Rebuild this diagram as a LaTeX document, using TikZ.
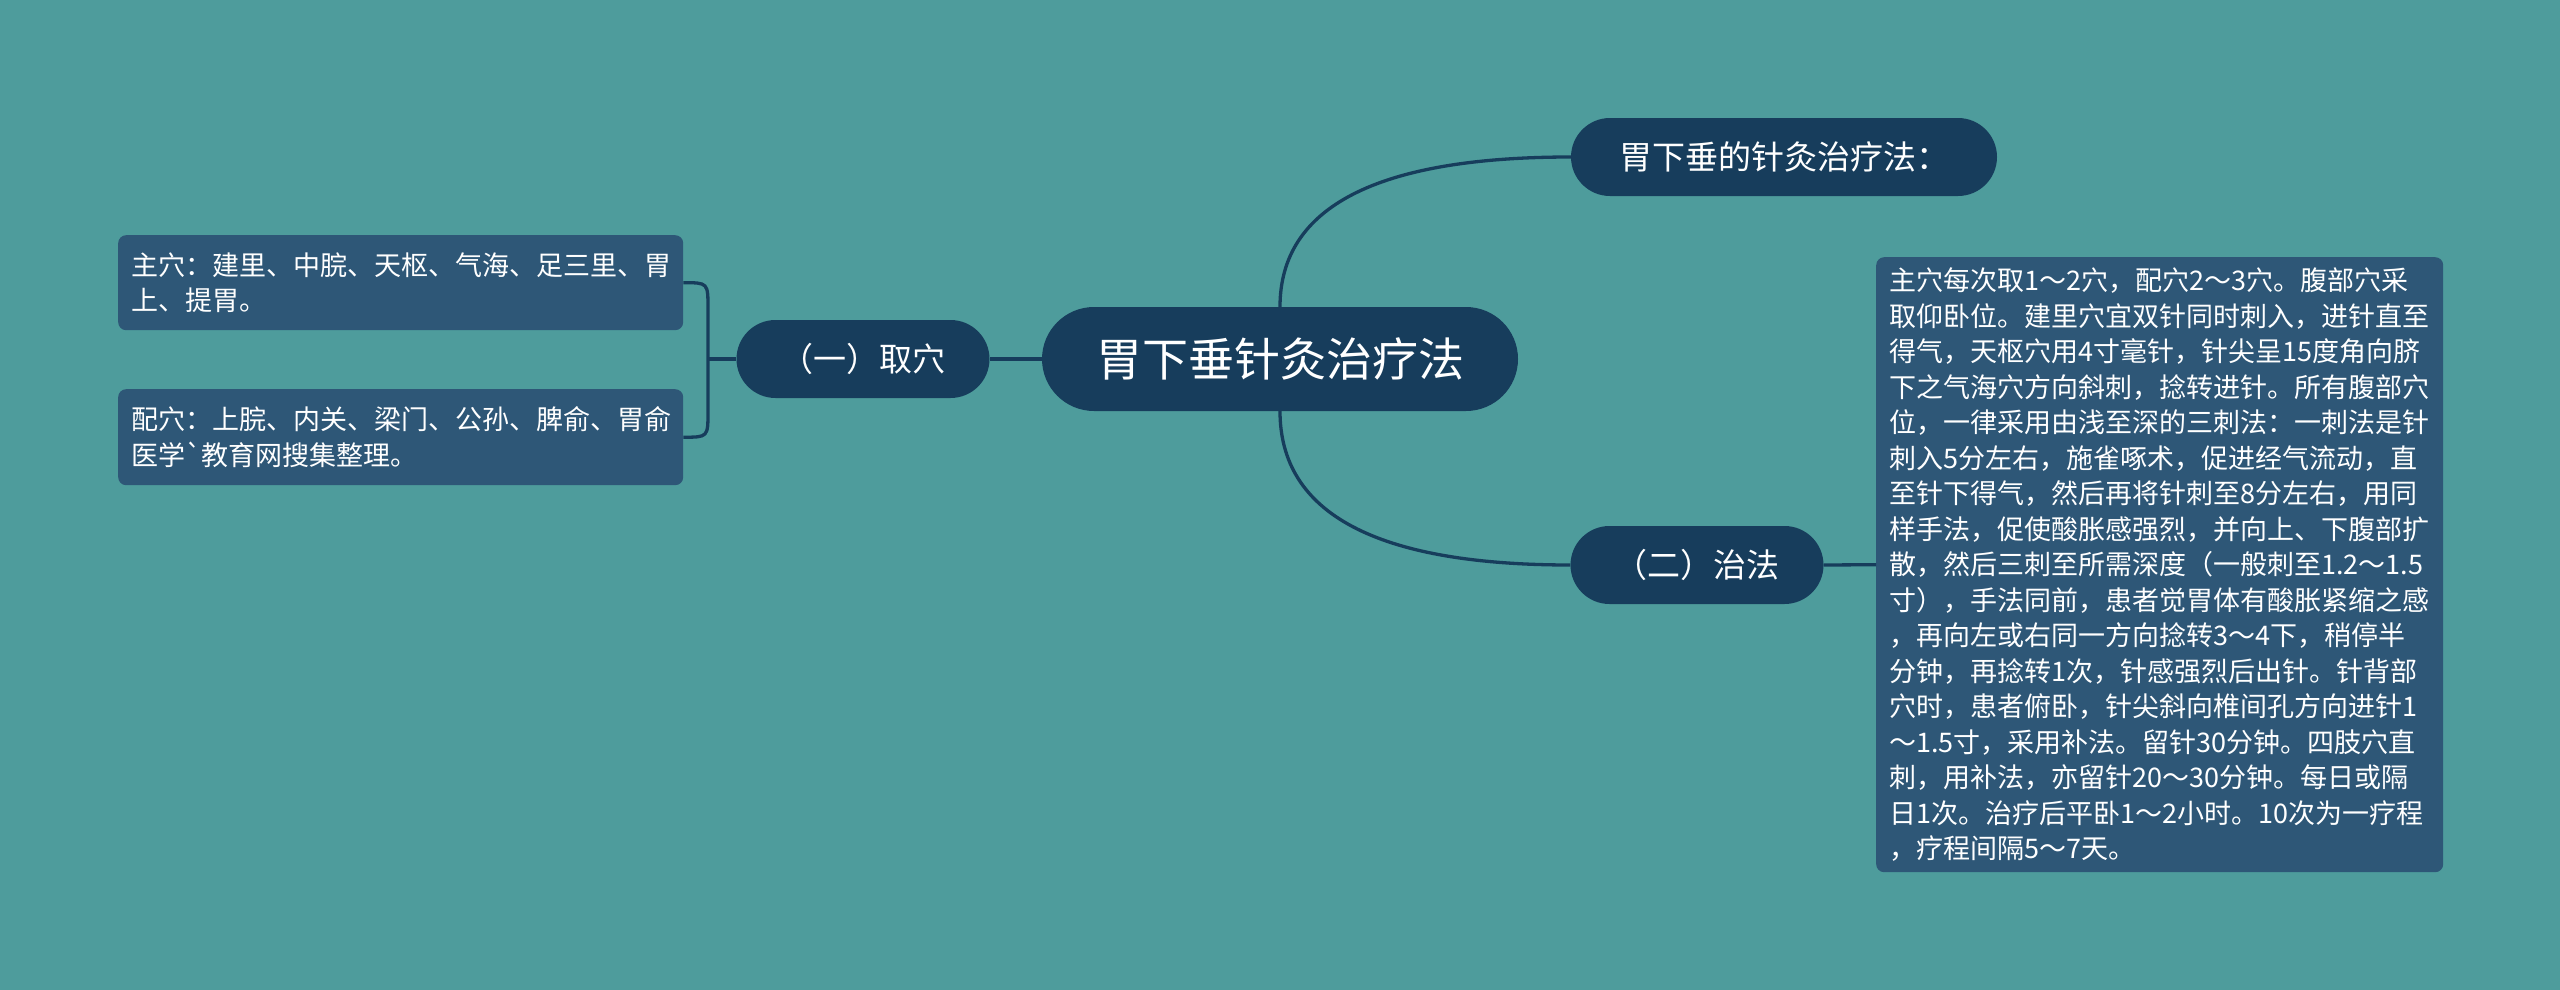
\documentclass[tikz,border=0pt]{standalone}
\usepackage{fontspec}
\newfontfamily\cjk{Noto Sans CJK SC}
\usetikzlibrary{calc}
\definecolor{bgc}{RGB}{78,156,156}
\definecolor{nodec}{RGB}{23,61,92}
\definecolor{boxc}{RGB}{46,87,119}
\begin{document}
\begin{tikzpicture}[x=1pt,y=-1pt,
  pill/.style={fill=nodec, text=white, inner sep=0pt, font=\cjk\fontsize{33}{40}\selectfont},
  textbox/.style={fill=boxc, text=white, rounded corners=8pt, anchor=north west, inner xsep=13pt, inner ysep=0pt, align=left, font=\cjk\fontsize{27}{35.5}\selectfont},
  conn/.style={draw=nodec, line width=3.3pt}]
\fill[bgc] (0,0) rectangle (2560,990);
\useasboundingbox (0,0) rectangle (2560,990);
% main nodes
\node[pill, minimum width=476pt, minimum height=104pt, rounded corners=52pt, font=\cjk\fontsize{46}{54}\selectfont] (central) at (1280,359) {胃下垂针灸治疗法};
\node[pill, minimum width=426pt, minimum height=78pt, rounded corners=39pt] (top) at (1784,157) {胃下垂的针灸治疗法：};
\node[pill, minimum width=253pt, minimum height=78pt, rounded corners=39pt] (zf) at (1697,565) {（二）治法};
\node[pill, minimum width=253pt, minimum height=78pt, rounded corners=39pt] (qx) at (863,359) {（一）取穴};
% text boxes
\node[textbox, minimum width=565pt, minimum height=95pt, text width=539pt] (b1) at (118,235) {主穴：建里、中脘、天枢、气海、足三里、胃\\上、提胃。};
\node[textbox, minimum width=565pt, minimum height=96pt, text width=539pt] (b2) at (118,389) {配穴：上脘、内关、梁门、公孙、脾俞、胃俞\\医学\textasciigrave 教育网搜集整理。};
\node[textbox, minimum width=567pt, minimum height=615pt, text width=541pt] (big) at (1876,257) {主穴每次取1～2穴，配穴2～3穴。腹部穴采\\
取仰卧位。建里穴宜双针同时刺入，进针直至\\
得气，天枢穴用4寸毫针，针尖呈15度角向脐\\
下之气海穴方向斜刺，捻转进针。所有腹部穴\\
位，一律采用由浅至深的三刺法：一刺法是针\\
刺入5分左右，施雀啄术，促进经气流动，直\\
至针下得气，然后再将针刺至8分左右，用同\\
样手法，促使酸胀感强烈，并向上、下腹部扩\\
散，然后三刺至所需深度（一般刺至1.2～1.5\\
寸），手法同前，患者觉胃体有酸胀紧缩之感\\
，再向左或右同一方向捻转3～4下，稍停半\\
分钟，再捻转1次，针感强烈后出针。针背部\\
穴时，患者俯卧，针尖斜向椎间孔方向进针1\\
～1.5寸，采用补法。留针30分钟。四肢穴直\\
刺，用补法，亦留针20～30分钟。每日或隔\\
日1次。治疗后平卧1～2小时。10次为一疗程\\
，疗程间隔5～7天。};
% connectors
\coordinate (bj) at (708,359);
\coordinate (ct) at (central.north |- top.west);
\coordinate (cb) at (central.south |- zf.west);
\draw[conn] (central.north) .. controls ($(central.north)!0.667!(ct)$) and ($(top.west)!0.667!(ct)$) .. (top.west);
\draw[conn] (central.south) .. controls ($(central.south)!0.667!(cb)$) and ($(zf.west)!0.667!(cb)$) .. (zf.west);
\draw[conn] (central.west) -- (qx.east);
\draw[conn] (zf.east) -- (big.west);
\draw[conn] (qx.west) -- (bj);
\draw[conn] (b1.east) .. controls (bj |- b1.east) .. ($(bj |- b1.east)+(0,26)$) -- ($(bj |- b2.east)+(0,-26)$) .. controls (bj |- b2.east) .. (b2.east);
\end{tikzpicture}
\end{document}
